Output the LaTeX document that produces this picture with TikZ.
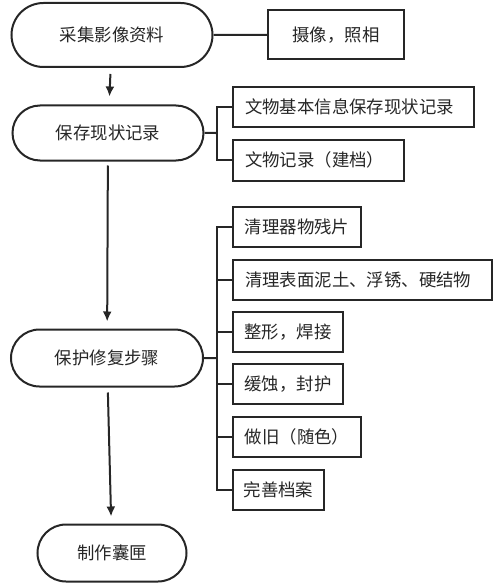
\documentclass[tikz,border=0pt]{standalone}
\usepackage{fontspec}
\setmainfont{Noto Sans CJK SC}
\usetikzlibrary{shapes.misc,arrows.meta}

\tikzset{
    stage/.style={draw=black!85, line width=1pt, rounded rectangle, inner sep=0pt,
        font=\fontsize{8.7pt}{10pt}\selectfont, text=black!85},
    item/.style={draw=black!85, line width=1pt, rectangle, inner sep=0pt,
        minimum height=20pt, anchor=west, font=\fontsize{8.7pt}{10pt}\selectfont, text=black!85},
    leftitem/.style={item, inner xsep=6pt, align=left, text width=#1},
    link/.style={draw=black!85, line width=1pt},
    flow/.style={link, -{Latex[length=5pt,width=4.5pt]}}
}

\begin{document}
\begin{tikzpicture}[x=0.5pt, y=-0.5pt]
    \useasboundingbox (0,0) rectangle (500,583);

    \node[stage, minimum width=100.5pt, minimum height=32pt] (collect) at (112,35) {采集影像资料};
    \node[stage, minimum width=95.5pt, minimum height=27.5pt] (record) at (108,133) {保存现状记录};
    \node[stage, minimum width=96pt, minimum height=28.5pt] (repair) at (107,358) {保护修复步骤};
    \node[stage, minimum width=74.5pt, minimum height=28.5pt] (box) at (112,553) {制作囊匣};

    \node[item, anchor=center, minimum width=68pt, minimum height=24.5pt] (photo) at (336,35) {摄像，照相};
    \node[leftitem=108.5pt] (info) at (232,107) {文物基本信息保存现状记录};
    \node[leftitem=73.5pt, minimum height=20.5pt] (file) at (232,160) {文物记录（建档）};
    \node[item, minimum width=64pt] (clean) at (232,227) {清理器物残片};
    \node[leftitem=117.5pt] (rust) at (232,280) {清理表面泥土、浮锈、硬结物};
    \node[item, minimum width=55pt] (shape) at (232,332) {整形，焊接};
    \node[item, minimum width=55pt] (seal) at (232,384) {缓蚀，封护};
    \node[item, minimum width=64pt] (aging) at (232,437) {做旧（随色）};
    \node[item, minimum width=45.5pt] (archive) at (232,490) {完善档案};

    \coordinate (recordjoin) at (217,133);
    \coordinate (repairjoin) at (217,358);

    \draw[flow, shorten <=3pt, shorten >=4pt] (collect) -- (record);
    \draw[flow, shorten <=2pt, shorten >=3.5pt] (record) -- (repair);
    \draw[flow, shorten <=2.5pt, shorten >=3.5pt] (repair) -- (box);

    \draw[link] (collect) -- (photo);
    \draw[link] (record) -- (recordjoin);
    \draw[link] (recordjoin) |- (info.west);
    \draw[link] (recordjoin) |- (file.west);
    \draw[link] (repair) -- (repairjoin);
    \draw[link] (repairjoin) |- (clean.west);
    \draw[link] (repairjoin) |- (rust.west);
    \draw[link] (repairjoin) |- (shape.west);
    \draw[link] (repairjoin) |- (seal.west);
    \draw[link] (repairjoin) |- (aging.west);
    \draw[link] (repairjoin) |- (archive.west);
\end{tikzpicture}
\end{document}
